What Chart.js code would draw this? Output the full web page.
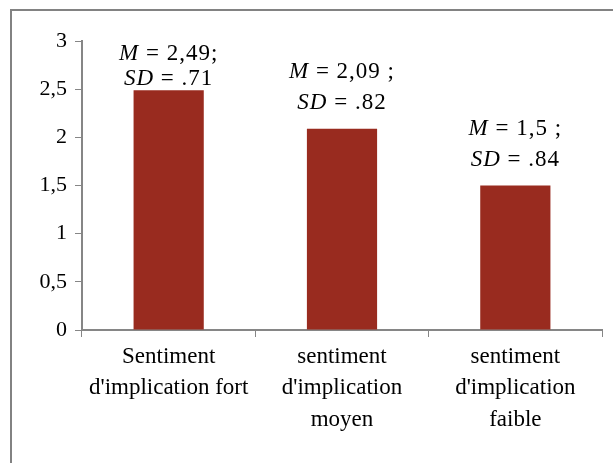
<!DOCTYPE html>
<html>
<head>
<meta charset="utf-8">
<script src="https://cdn.jsdelivr.net/npm/chart.js@4"></script>
<style>
  body { margin: 0; background: #fff; }
  #wrap { position: relative; width: 613px; height: 463px; overflow: hidden; }
  #frame { position: absolute; left: 10px; top: 9px; width: 620px; height: 470px;
           border-top: 2px solid #828282; border-left: 2px solid #828282; }
  canvas { position: absolute; left: 0; top: 0; }
</style>
</head>
<body>
<div id="wrap">
  <div id="frame"></div>
  <canvas id="chart" width="613" height="463"></canvas>
</div>
<script>
const categories = [
  ["Sentiment", "d'implication fort"],
  ["sentiment", "d'implication", "moyen"],
  ["sentiment", "d'implication", "faible"]
];
const means = [2.49, 2.09, 1.5];
const meanLabels = [" = 2,49;", " = 2,09 ;", " = 1,5 ;"];
const sdLabels = [" = .71", " = .82", " = .84"];
const yTicks = [0, 0.5, 1, 1.5, 2, 2.5, 3];

const FONT = "'Liberation Serif', 'DejaVu Serif', serif";
const axisColor = '#868686';

// draws "M = x;" / "SD = y" above each bar, italic letters
const statLabels = {
  id: 'statLabels',
  afterDatasetsDraw(chart) {
    const ctx = chart.ctx;
    const meta = chart.getDatasetMeta(0);
    const top = chart.chartArea.top;
    ctx.save();
    ctx.fillStyle = '#000';
    ctx.textBaseline = 'middle';
    meta.data.forEach((bar, i) => {
      let y2 = bar.y - 26;
      let y1 = y2 - 31;
      if (y1 < top + 12) {
        y1 = top + 13;
        y2 = bar.y - 11;
      }
      drawPair(ctx, bar.x, y1, 'M', meanLabels[i]);
      drawPair(ctx, bar.x, y2, 'SD', sdLabels[i]);
    });
    ctx.restore();
  }
};

function drawPair(ctx, x, y, ital, rest) {
  const fi = 'italic 23px ' + FONT;
  const fn = '23px ' + FONT;
  ctx.letterSpacing = '1px';
  ctx.font = fi;
  const w1 = ctx.measureText(ital).width;
  ctx.font = fn;
  const w2 = ctx.measureText(rest).width;
  let sx = x - (w1 + w2) / 2;
  ctx.textAlign = 'left';
  ctx.font = fi;
  ctx.fillText(ital, sx, y);
  ctx.font = fn;
  ctx.fillText(rest, sx + w1, y);
  ctx.letterSpacing = '0px';
}

new Chart(document.getElementById('chart'), {
  type: 'bar',
  data: {
    labels: categories,
    datasets: [{
      data: means,
      backgroundColor: '#992B1F',
      categoryPercentage: 1,
      barPercentage: 0.405
    }]
  },
  options: {
    responsive: false,
    animation: false,
    layout: { padding: { left: 0, top: 41, right: 11, bottom: 0 } },
    plugins: { legend: { display: false }, tooltip: { enabled: false } },
    scales: {
      x: {
        offset: true,
        grid: { offset: true, drawOnChartArea: false, drawTicks: true, tickLength: 7, color: axisColor },
        border: { color: axisColor, width: 2 },
        ticks: {
          color: '#000',
          padding: 4,
          maxRotation: 0,
          font: { family: FONT, size: 23, lineHeight: 1.37 }
        },
        afterFit(s) { s.height = 133; }
      },
      y: {
        min: 0,
        max: 3,
        afterBuildTicks(s) { s.ticks = yTicks.map(v => ({ value: v })); },
        grid: { drawOnChartArea: false, drawTicks: true, tickLength: 7, color: axisColor },
        border: { color: axisColor, width: 2 },
        ticks: {
          color: '#000',
          padding: 8,
          font: { family: FONT, size: 22 },
          callback: v => String(v).replace('.', ',')
        },
        afterFit(s) { s.width = 82; }
      }
    }
  },
  plugins: [statLabels]
});
</script>
</body>
</html>
